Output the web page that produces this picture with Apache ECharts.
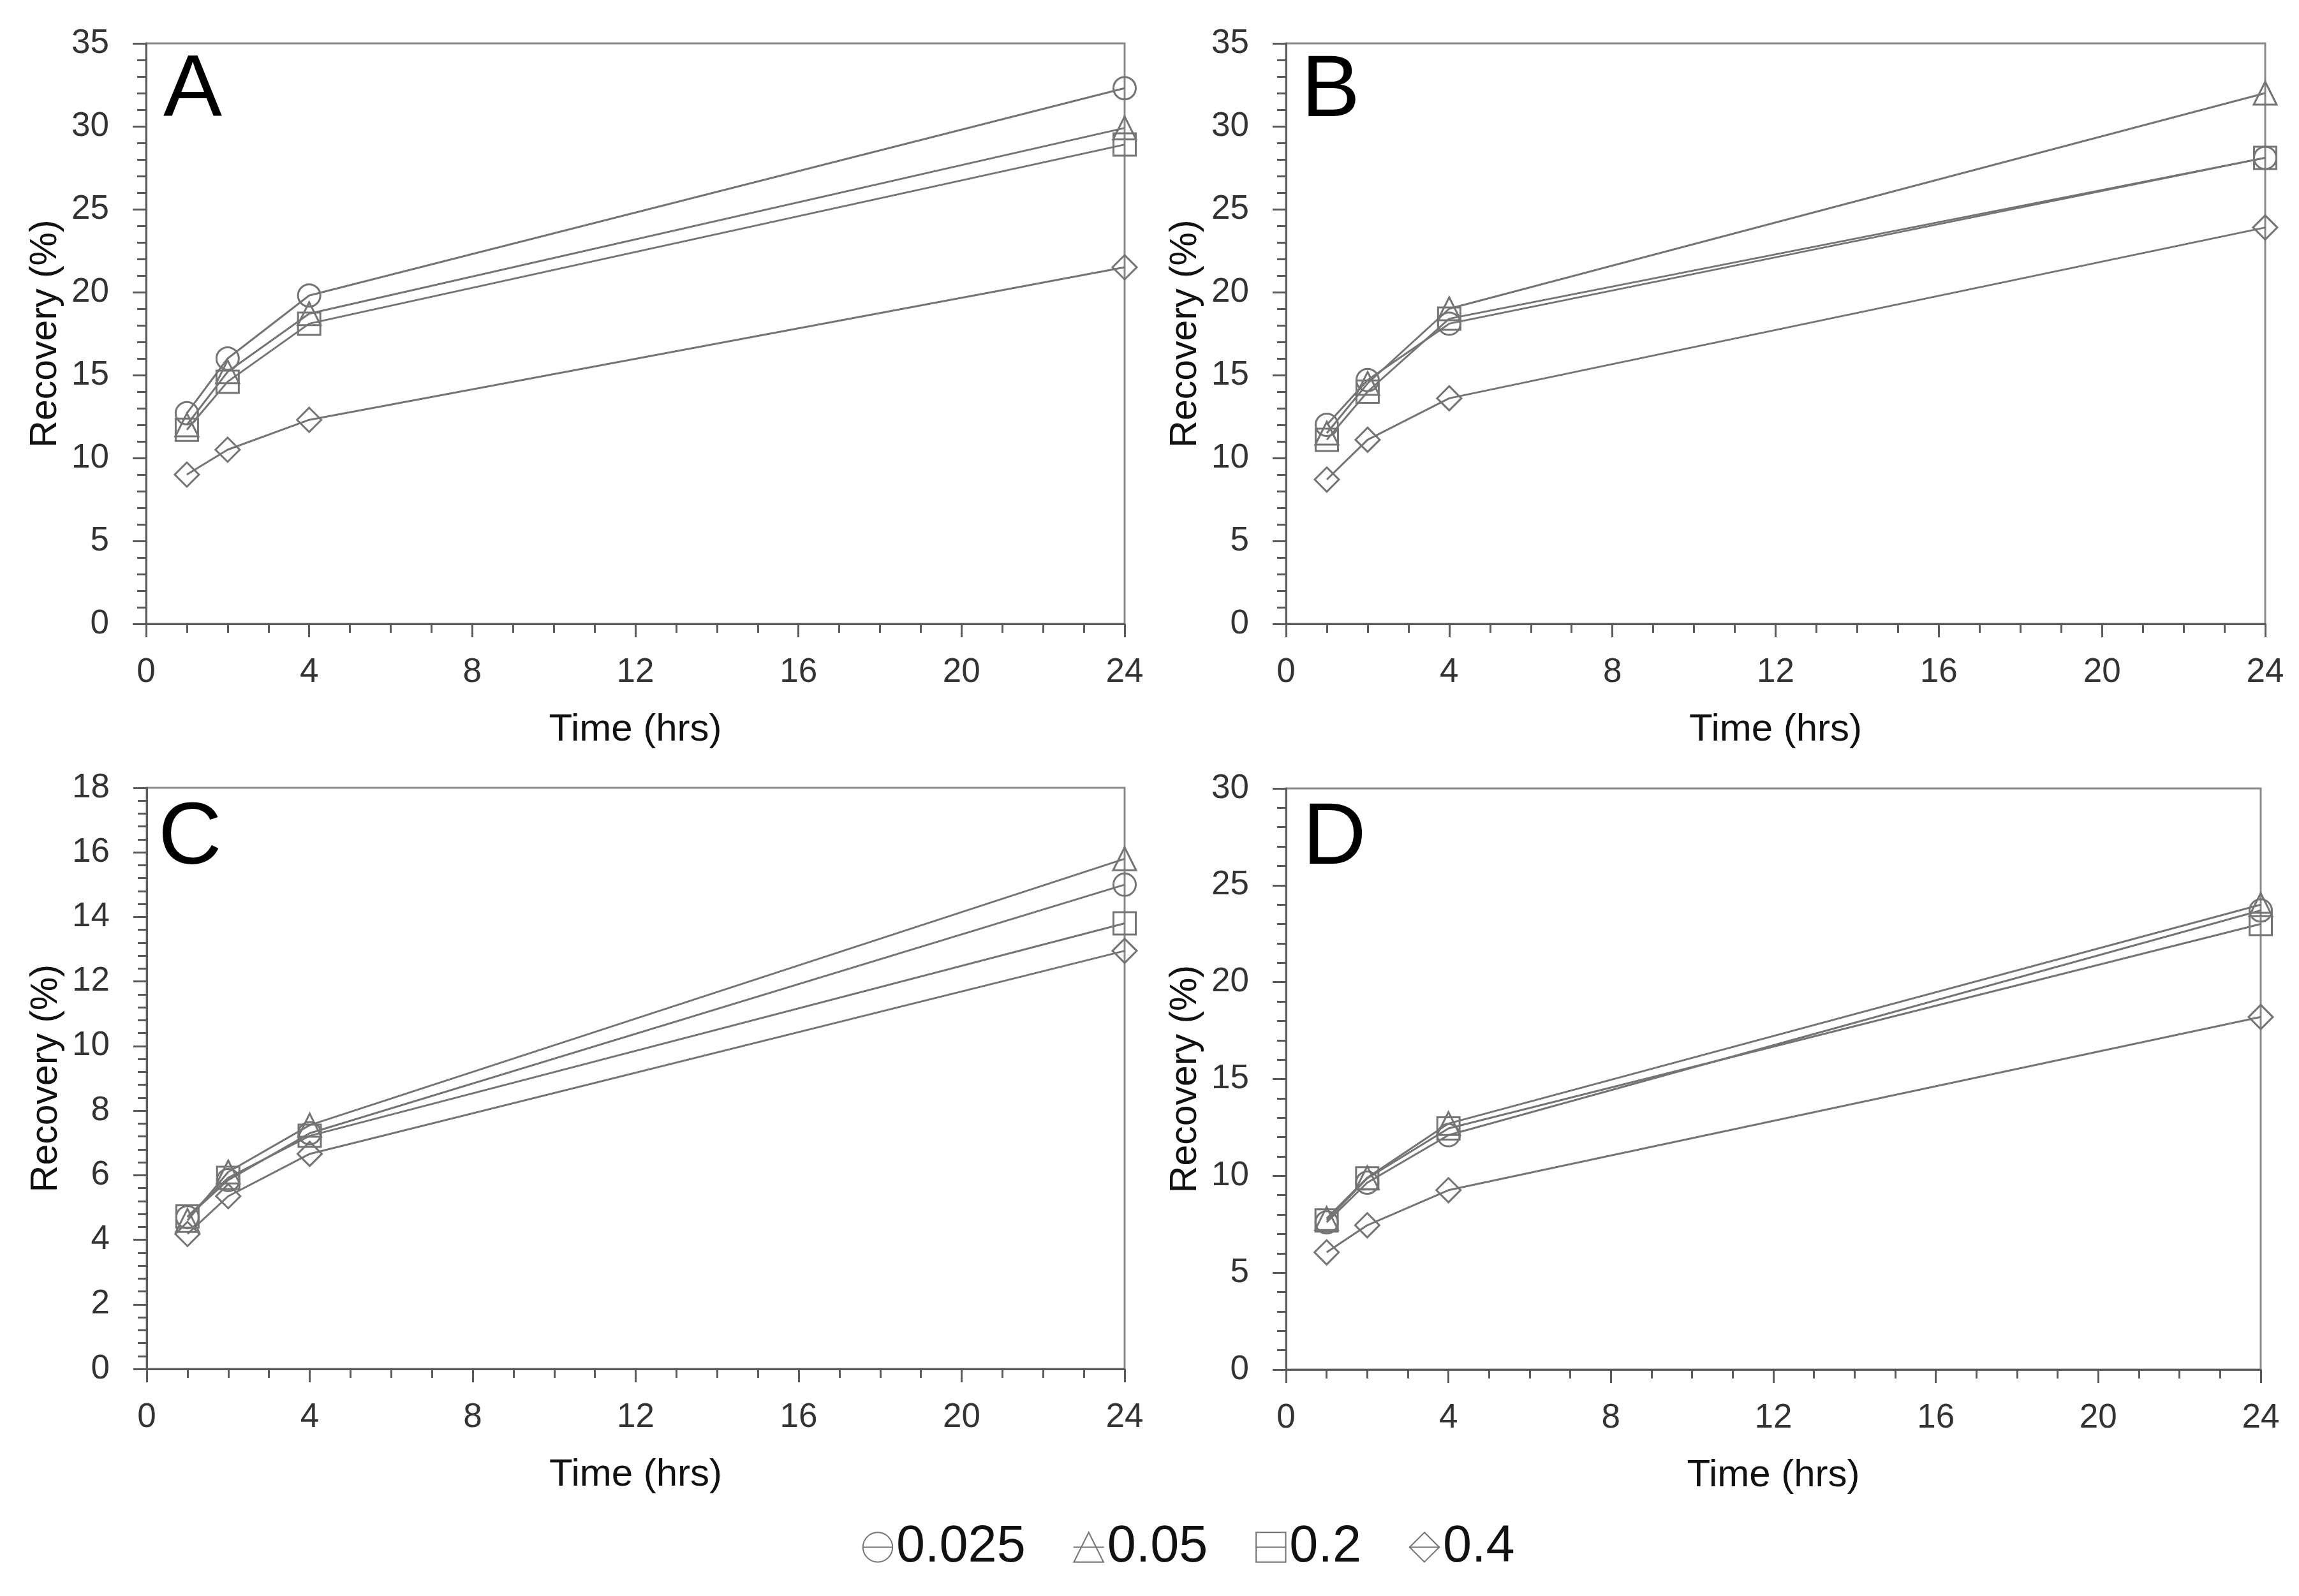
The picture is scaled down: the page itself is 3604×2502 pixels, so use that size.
<!DOCTYPE html>
<html>
<head>
<meta charset="utf-8">
<script src="https://cdn.jsdelivr.net/npm/echarts@6/dist/echarts.min.js"></script>
<style>
html,body{margin:0;padding:0;background:#fff;}
#chart{width:3604px;height:2502px;}
</style>
</head>
<body>
<div id="chart"></div>
<script>
// ---- data ----
const times = [1, 2, 4, 24];
const seriesNames = ['0.025', '0.05', '0.2', '0.4'];
const panelLetters = ['A', 'B', 'C', 'D'];

const A_c025 = [12.7, 16.0, 19.8, 32.3];
const A_t05  = [12.0, 15.2, 18.7, 29.9];
const A_s02  = [11.7, 14.6, 18.1, 28.9];
const A_d04  = [9.0, 10.5, 12.3, 21.5];

const B_c025 = [12.0, 14.7, 18.1, 28.1];
const B_t05  = [11.5, 14.5, 19.0, 32.0];
const B_s02  = [11.1, 14.0, 18.4, 28.1];
const B_d04  = [8.7, 11.1, 13.6, 23.9];

const C_c025 = [4.7, 5.85, 7.3, 15.0];
const C_t05  = [4.6, 6.1, 7.55, 15.8];
const C_s02  = [4.72, 5.92, 7.22, 13.8];
const C_d04  = [4.18, 5.35, 6.66, 12.95];

const D_c025 = [7.6, 9.65, 12.1, 23.7];
const D_t05  = [7.8, 9.9, 12.7, 24.0];
const D_s02  = [7.7, 9.87, 12.45, 23.0];
const D_d04  = [6.05, 7.45, 9.26, 18.2];

const xTicks = [0, 4, 8, 12, 16, 20, 24];
const yMaxes = [35, 35, 18, 30];
const yIntervals = [5, 5, 2, 5];

const panelData = [
  [A_c025, A_t05, A_s02, A_d04],
  [B_c025, B_t05, B_s02, B_d04],
  [C_c025, C_t05, C_s02, C_d04],
  [D_c025, D_t05, D_s02, D_d04]
];

// ---- layout / style ----
const grids = [
  {left: 229, top: 68, width: 1534, height: 910},
  {left: 2016, top: 68, width: 1535, height: 910},
  {left: 230, top: 1235, width: 1533, height: 911},
  {left: 2016, top: 1236, width: 1528, height: 911}
];
const letterPos = [
  {left: 256, top: 75},
  {left: 2040, top: 75},
  {left: 248, top: 1247},
  {left: 2042, top: 1247}
];
const symbols = ['circle', 'triangle', 'rect', 'diamond'];
const symbolSizes = [35, 36, 35, 38];
const FONT = "'Liberation Sans', Arial, sans-serif";
const LINE = '#747474';
const AXIS = '#5a5a5a';

const option = {
  backgroundColor: '#ffffff',
  animation: false,
  title: panelLetters.map((t, i) => ({
    text: t, left: letterPos[i].left, top: letterPos[i].top, padding: 0,
    textStyle: {fontSize: 138, fontWeight: 'normal', color: '#000', fontFamily: FONT}
  })),
  legend: {
    data: seriesNames,
    left: 1346, top: 2380,
    itemWidth: 48, itemHeight: 58, itemGap: 74,
    textStyle: {fontSize: 81, color: '#111', fontFamily: FONT},
    inactiveColor: '#ccc'
  },
  grid: grids.map(g => Object.assign({show: true, borderColor: '#8a8a8a', borderWidth: 3, backgroundColor: 'transparent'}, g)),
  xAxis: grids.map((g, i) => ({
    type: 'value', gridIndex: i, min: 0, max: 24, interval: 4,
    name: 'Time (hrs)', nameLocation: 'middle', nameGap: 136,
    nameTextStyle: {fontSize: 60, color: '#111', fontFamily: FONT},
    axisLine: {show: true, onZero: false, lineStyle: {color: AXIS, width: 3}},
    axisTick: {show: true, length: 21, lineStyle: {color: AXIS, width: 3}},
    minorTick: {show: true, splitNumber: 4, length: 14, lineStyle: {color: AXIS, width: 3}},
    axisLabel: {fontSize: 53, color: '#333', margin: 50, fontFamily: FONT},
    splitLine: {show: false}
  })),
  yAxis: grids.map((g, i) => ({
    type: 'value', gridIndex: i, min: 0, max: yMaxes[i], interval: yIntervals[i],
    name: 'Recovery (%)', nameLocation: 'middle', nameGap: 128,
    nameTextStyle: {fontSize: 59, color: '#111', fontFamily: FONT},
    axisLine: {show: true, onZero: false, lineStyle: {color: AXIS, width: 3}},
    axisTick: {show: true, length: 21, lineStyle: {color: AXIS, width: 3}},
    minorTick: {show: true, splitNumber: 5, length: 14, lineStyle: {color: AXIS, width: 3}},
    axisLabel: {fontSize: 53, color: '#333', margin: 58, fontFamily: FONT},
    splitLine: {show: false}
  })),
  series: []
};

panelData.forEach((set, p) => {
  set.forEach((vals, k) => {
    option.series.push({
      type: 'line',
      name: seriesNames[k],
      xAxisIndex: p, yAxisIndex: p,
      data: times.map((t, j) => [t, vals[j]]),
      symbol: symbols[k],
      symbolSize: symbolSizes[k],
      showAllSymbol: true,
      color: LINE,
      lineStyle: {color: LINE, width: 3},
      itemStyle: {color: 'rgba(255,255,255,0)', borderColor: LINE, borderWidth: 3},
      emphasis: {disabled: true},
      z: 3
    });
  });
});

const chart = echarts.init(document.getElementById('chart'), null, {renderer: 'canvas'});
chart.setOption(option);
</script>
</body>
</html>
